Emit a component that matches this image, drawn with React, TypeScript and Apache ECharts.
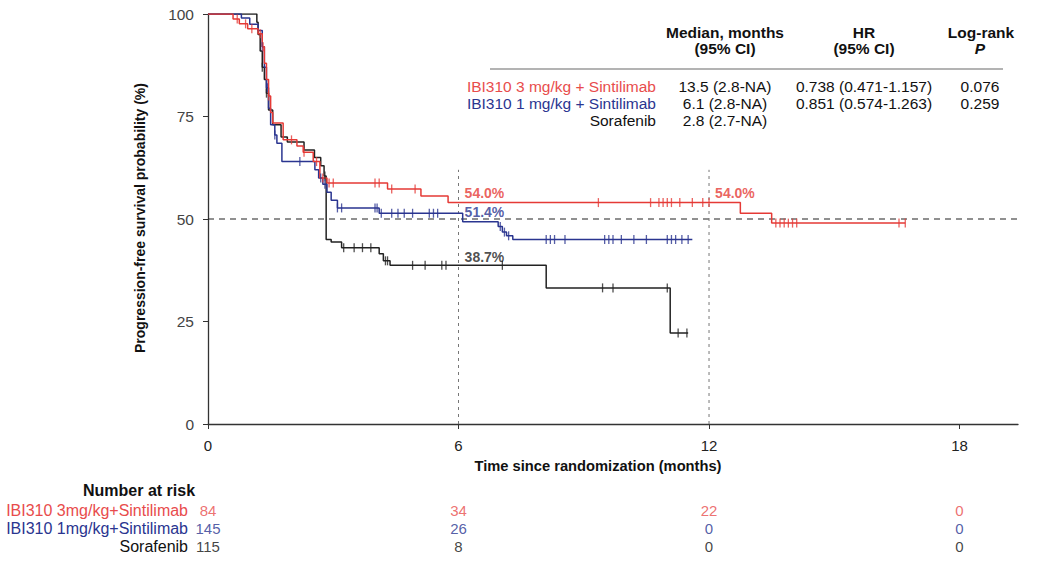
import React, { useEffect, useRef } from "react";
import * as echarts from "echarts";

// ---- Kaplan-Meier step data (time in months, PFS %) ----
const redT = [0, 0.6, 0.75, 0.95, 1.2, 1.3, 1.35, 1.4, 1.45, 1.5, 1.55, 1.8, 2.13, 2.28, 2.52, 2.68, 2.85, 4.3, 5.1, 5.75, 12.75, 13.5, 16.7];
const redS = [100, 98.8, 97.6, 96.4, 95.2, 92, 88, 84, 80, 76, 73.4, 69.3, 67.8, 66.3, 64, 60, 58.8, 57.3, 55.6, 54.0, 51.4, 49.0, 49.0];

const blueT = [0, 0.8, 1.0, 1.2, 1.3, 1.35, 1.4, 1.45, 1.5, 1.6, 1.65, 1.77, 2.56, 2.65, 2.75, 2.85, 2.95, 3.1, 4.1, 6.1, 6.95, 7.05, 7.15, 7.3, 11.6];
const blueS = [100, 99, 97.5, 96, 92, 87, 82, 77, 73, 70.5, 68.5, 64, 62, 60, 58.5, 56.5, 54.6, 52.7, 51.4, 49.3, 48.2, 46.8, 45.9, 45, 45];

const blackT = [0, 1.17, 1.2, 1.25, 1.3, 1.35, 1.4, 1.45, 1.55, 1.75, 1.9, 2.3, 2.55, 2.7, 2.78, 2.83, 2.95, 3.2, 4.1, 4.2, 4.36, 8.1, 11.07, 11.5];
const blackS = [100, 98, 95, 91, 87, 84, 80.7, 76.6, 73, 70, 68.8, 66.8, 65, 63, 60.5, 45, 44.4, 43, 41.5, 39.8, 38.7, 33.2, 22.2, 22.2];

// ---- censoring times ----
const redCens = [0.7, 0.9, 1.05, 1.25, 1.32, 1.45, 2.0, 2.3, 2.6, 2.75, 2.9, 3.0, 4.0, 4.1, 4.4, 4.96, 9.35, 10.6, 10.8, 10.9, 11.0, 11.1, 11.3, 11.6, 11.85, 12.0, 13.6, 13.7, 13.8, 13.9, 14.0, 14.1, 16.55, 16.7];
const blueCens = [1.3, 1.42, 1.6, 2.2, 2.7, 2.8, 3.1, 3.2, 4.0, 4.05, 4.15, 4.4, 4.55, 4.7, 4.9, 5.3, 5.4, 5.5, 7.0, 7.1, 7.2, 8.1, 8.2, 8.3, 8.55, 9.5, 9.6, 9.7, 9.9, 10.2, 10.5, 11.0, 11.1, 11.2, 11.35, 11.5];
const blackCens = [1.3, 1.4, 2.8, 3.25, 3.5, 3.7, 3.9, 4.25, 4.3, 4.9, 5.2, 5.6, 5.7, 7.05, 9.45, 9.7, 11.0, 11.26, 11.47];

// ---- annotations ----
const annoRed = [
  { t: 6.05, y: 56.3, text: "54.0%" },
  { t: 12.05, y: 56.3, text: "54.0%" },
];
const annoBlue = [{ t: 6.05, y: 51.7, text: "51.4%" }];
const annoBlack = [{ t: 6.05, y: 40.7, text: "38.7%" }];

// ---- number at risk ----
const riskTimes = [0, 6, 12, 18];
const riskRows = ["IBI310 3mg/kg+Sintilimab", "IBI310 1mg/kg+Sintilimab", "Sorafenib"];
const riskRed = [84, 34, 22, 0];
const riskBlue = [145, 26, 0, 0];
const riskBlack = [115, 8, 0, 0];

// ---- summary table ----
const tableRows = ["IBI310 3 mg/kg + Sintilimab", "IBI310 1 mg/kg + Sintilimab", "Sorafenib"];
const tableMedian = ["13.5 (2.8-NA)", "6.1 (2.8-NA)", "2.8 (2.7-NA)"];
const tableHR = ["0.738 (0.471-1.157)", "0.851 (0.574-1.263)", ""];
const tableP = ["0.076", "0.259", ""];

const xTicks = [0, 6, 12, 18];

const RED = "#e53a36";
const RED_TXT = "#e84c4c";
const BLUE = "#2a3590";
const BLACK = "#222222";
const FONT = "'Liberation Sans', Arial, Helvetica, sans-serif";

function stepAt(ts: number[], ss: number[], t: number) {
  let v = ss[0];
  for (let i = 0; i < ts.length; i++) if (ts[i] <= t) v = ss[i];
  return v;
}

function kmSeries(ts: number[], ss: number[], color: string) {
  return {
    type: "line",
    step: "end",
    symbol: "none",
    data: ts.map((t, i) => [t, ss[i]]),
    lineStyle: { color, width: 1.5 },
    z: 3,
  };
}

function censSeries(cens: number[], ts: number[], ss: number[], color: string) {
  return {
    type: "scatter",
    symbol: "rect",
    symbolSize: [1.3, 9],
    data: cens.map((t) => [t, stepAt(ts, ss, t)]),
    itemStyle: { color },
    z: 4,
  };
}

function annoSeries(items: { t: number; y: number; text: string }[], color: string) {
  return {
    type: "scatter",
    symbolSize: 0,
    data: items.map((a) => ({ value: [a.t, a.y], label: { formatter: a.text } })),
    label: {
      show: true,
      position: "right",
      distance: 4,
      color,
      fontFamily: FONT,
      fontWeight: "bold",
      fontSize: 14,
    },
    z: 5,
  };
}

function riskSeries(vals: number[], row: string, color: string) {
  return {
    type: "scatter",
    xAxisIndex: 1,
    yAxisIndex: 1,
    symbolSize: 0,
    data: riskTimes.map((t, i) => [t, row, vals[i]]),
    label: {
      show: true,
      position: "inside",
      formatter: (p: any) => String(p.value[2]),
      color,
      fontFamily: FONT,
      fontSize: 15,
    },
  };
}

export default function App() {
  const ref = useRef<HTMLDivElement>(null);
  useEffect(() => {
    if (!ref.current) return;
    const chart = echarts.init(ref.current, null, { renderer: "svg" });

    const txt = (x: number, y: number, text: string, opts: any = {}) => ({
      type: "text",
      x,
      y,
      style: {
        text,
        fill: opts.fill || "#111",
        font: opts.font || `15.5px ${FONT}`,
        textAlign: opts.align || "center",
        textVerticalAlign: "middle",
      },
      rotation: opts.rotation || 0,
    });

    const rowColors = [RED_TXT, BLUE, "#111"];
    const rowY = [86, 103, 120];
    const graphics: any[] = [
      txt(140, 218, "Progression-free survival probability (%)", {
        font: `bold 14px ${FONT}`,
        rotation: Math.PI / 2,
      }),
      txt(598, 466, "Time since randomization (months)", { font: `bold 14.7px ${FONT}` }),
      txt(139, 490, "Number at risk", { font: `bold 16px ${FONT}` }),
      txt(725, 32, "Median, months", { font: `bold 15.5px ${FONT}` }),
      txt(725, 48, "(95% CI)", { font: `bold 15.5px ${FONT}` }),
      txt(864, 32, "HR", { font: `bold 15.5px ${FONT}` }),
      txt(864, 48, "(95% CI)", { font: `bold 15.5px ${FONT}` }),
      txt(981, 32, "Log-rank", { font: `bold 15.5px ${FONT}` }),
      txt(980, 48, "P", { font: `italic bold 15.5px ${FONT}` }),
      {
        type: "line",
        shape: { x1: 490, y1: 69, x2: 1003, y2: 69 },
        style: { stroke: "#9a9a9a", lineWidth: 1.3 },
      },
    ];
    tableRows.forEach((r, i) => {
      graphics.push(txt(656, rowY[i], r, { align: "right", fill: rowColors[i] }));
      graphics.push(txt(725, rowY[i], tableMedian[i]));
      if (tableHR[i]) graphics.push(txt(864, rowY[i], tableHR[i]));
      if (tableP[i]) graphics.push(txt(980, rowY[i], tableP[i]));
    });

    chart.setOption({
      animation: false,
      backgroundColor: "#ffffff",
      textStyle: { fontFamily: FONT },
      grid: [
        { left: 208, right: 20, top: 14, bottom: 143 },
        { left: 208, right: 20, top: 501, height: 55 },
      ],
      xAxis: [
        {
          type: "value",
          min: 0,
          max: 19.4,
          interval: 6,
          splitLine: { show: false },
          axisLine: { onZero: false, lineStyle: { color: "#333", width: 1.3 } },
          axisTick: { customValues: xTicks, length: 5, lineStyle: { color: "#333" } },
          axisLabel: {
            customValues: xTicks,
            margin: 14,
            color: "#222",
            fontSize: 15,
            fontFamily: FONT,
          },
        },
        {
          type: "value",
          gridIndex: 1,
          min: 0,
          max: 19.4,
          show: false,
        },
      ],
      yAxis: [
        {
          type: "value",
          min: 0,
          max: 100,
          interval: 25,
          splitLine: { show: false },
          axisLine: { show: true, lineStyle: { color: "#333", width: 1.3 } },
          axisTick: { show: true, length: 5, lineStyle: { color: "#333" } },
          axisLabel: { margin: 14, color: "#444", fontSize: 15.5, fontFamily: FONT },
        },
        {
          type: "category",
          gridIndex: 1,
          inverse: true,
          data: riskRows,
          axisLine: { show: false },
          axisTick: { show: false },
          axisLabel: {
            interval: 0,
            hideOverlap: false,
            margin: 20,
            fontFamily: FONT,
            fontSize: 16,
            formatter: (v: string) => {
              const i = riskRows.indexOf(v);
              return `{r${i}|${v}}`;
            },
            rich: {
              r0: { color: RED_TXT, fontFamily: FONT, fontSize: 16 },
              r1: { color: BLUE, fontFamily: FONT, fontSize: 16 },
              r2: { color: "#111", fontFamily: FONT, fontSize: 16 },
            },
          },
        },
      ],
      series: [
        {
          type: "line",
          symbol: "none",
          data: [
            [0, 50],
            [19.4, 50],
          ],
          lineStyle: { color: "#222", width: 1.2, type: [6, 5] },
          z: 1,
        },
        {
          type: "line",
          symbol: "none",
          data: [
            [6, 0],
            [6, 62],
          ],
          lineStyle: { color: "#777", width: 1, type: [3, 4] },
          z: 1,
        },
        {
          type: "line",
          symbol: "none",
          data: [
            [12, 0],
            [12, 62],
          ],
          lineStyle: { color: "#777", width: 1, type: [3, 4] },
          z: 1,
        },
        kmSeries(blackT, blackS, BLACK),
        kmSeries(blueT, blueS, BLUE),
        kmSeries(redT, redS, RED),
        censSeries(blackCens, blackT, blackS, BLACK),
        censSeries(blueCens, blueT, blueS, BLUE),
        censSeries(redCens, redT, redS, RED),
        annoSeries(annoRed, RED),
        annoSeries(annoBlue, BLUE),
        annoSeries(annoBlack, BLACK),
        riskSeries(riskRed, riskRows[0], RED_TXT),
        riskSeries(riskBlue, riskRows[1], BLUE),
        riskSeries(riskBlack, riskRows[2], "#111"),
      ],
      graphic: graphics,
    });
    return () => chart.dispose();
  }, []);
  return (
    <div
      ref={ref}
      style={{ position: "fixed", left: 0, top: 0, width: 1038, height: 567, background: "#fff" }}
    />
  );
}
